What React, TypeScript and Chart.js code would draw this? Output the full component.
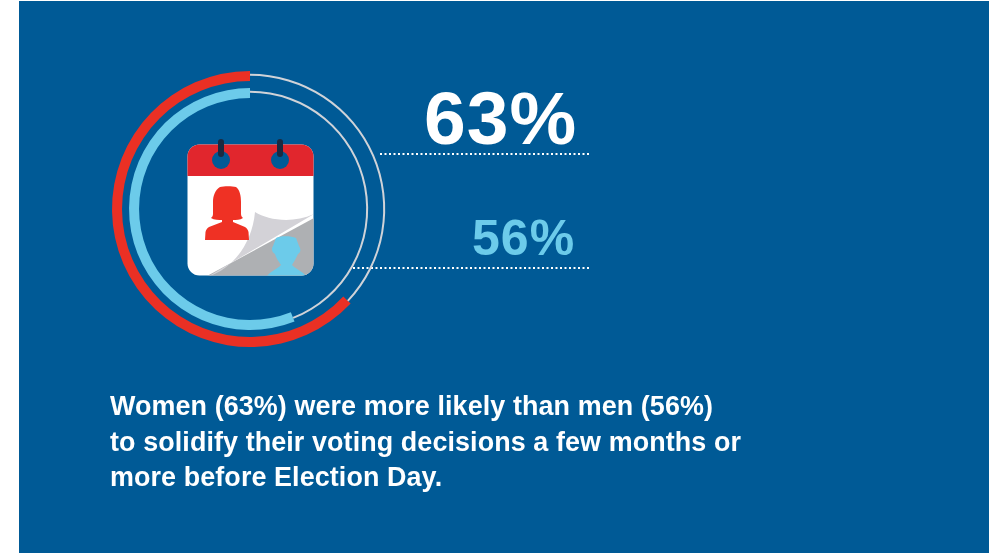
import React, { useEffect, useRef } from "react";
import { Chart, registerables } from "chart.js";

Chart.register(...registerables);

// Share of each group that settled on a vote months ahead of Election Day
const groups = ["Women", "Men"];
const decidedEarly = [63, 56];
const ringColors = ["#ea3024", "#6ccbea"];
const trackColor = "#d0d3d8";
const noteLines = [
  "Women (63%) were more likely than men (56%)",
  "to solidify their voting decisions a few months or",
  "more before Election Day.",
];

const FONT = '"Liberation Sans", Arial, sans-serif';
const PANEL = "#005a96";

// Thins the remainder of each ring down to a hairline track
const thinTracks = {
  id: "thinTracks",
  beforeDatasetDraw(chart: any, args: any) {
    const ds = chart.data.datasets[args.index];
    if (ds.label === "gap") return;
    const track = args.meta.data[1];
    const band = args.meta.data[0];
    const mid = (band.outerRadius + band.innerRadius) / 2 + 1.2;
    track.outerRadius = mid + 1;
    track.innerRadius = mid - 1;
  },
};

function ringDataset(index: number) {
  const value = decidedEarly[index];
  return {
    label: groups[index],
    data: [value, 100 - value],
    backgroundColor: [ringColors[index], trackColor],
    borderWidth: 0,
    // The band ends at twelve o'clock and grows anticlockwise
    rotation: (-value / 100) * 360,
    weight: 10,
  };
}

function CalendarIcon() {
  return (
    <svg
      width={989}
      height={553}
      style={{ position: "absolute", left: 0, top: 0 }}
    >
      <defs>
        <clipPath id="sheet">
          <rect x={187.5} y={144.5} width={126} height={131} rx={12} />
        </clipPath>
      </defs>
      <line x1={380} y1={154} x2={591} y2={154} stroke="#ffffff" strokeWidth={2} strokeDasharray="2 2.5" />
      <line x1={353} y1={268} x2={591} y2={268} stroke="#ffffff" strokeWidth={2} strokeDasharray="2 2.5" />
      <g clipPath="url(#sheet)">
        <rect x={187} y={144} width={127} height={132} fill="#ffffff" />
        <rect x={187} y={144} width={127} height={32} fill="#e1262d" />
        <path d="M207 276 L314 218 L314 276 Z" fill="#aeb0b3" />
        <path
          d="M255 212 C268 220 292 224 314 214 L209 276 C230 270 252 246 255 212 Z"
          fill="#d3d2d7"
        />
        <path
          d="M276 238 C280 235.5 291 235.5 296 238 L299 246 C301 249 301 252 298 254 C296 258 294 262 292 265 C296 269 302 271 306 276 L267 276 C271 271 277 269 281 265 C279 262 276 258 275 254 C272 252 271 249 273 246 Z"
          fill="#6ccbea"
        />
      </g>
      <circle cx={221} cy={160} r={9} fill={PANEL} />
      <circle cx={280} cy={160} r={9} fill={PANEL} />
      <rect x={218} y={139} width={6} height={18} rx={3} fill="#1b2a41" />
      <rect x={277} y={139} width={6} height={18} rx={3} fill="#1b2a41" />
      <path
        d="M220 187 C224 186 232 186 236 187 C240 190 241 196 241 202 L241 214 C241 216 242 217 243 218 C240 220 236 220 233 220 L233 222 L245 227 C247 228 248 230 248.5 232 L249 240 L205 240 L205.5 232 C206 230 207 228 209 227 L222 222 L222 220 C219 220 214 220 211 218 C212 217 213 216 213 214 L213 202 C213 196 215 190 220 187 Z"
        fill="#ef3124"
      />
    </svg>
  );
}

export default function App() {
  const canvasRef = useRef<HTMLCanvasElement>(null);

  useEffect(() => {
    const chart = new Chart(canvasRef.current!, {
      type: "doughnut",
      data: {
        labels: ["Decided early", "Other"],
        datasets: [
          ringDataset(0),
          {
            label: "gap",
            data: [100],
            backgroundColor: ["rgba(0,0,0,0)"],
            borderWidth: 0,
            weight: 7,
          },
          ringDataset(1),
        ],
      },
      options: {
        responsive: false,
        animation: false,
        cutout: "80.4%",
        layout: { padding: { left: 112, right: 601, top: 71, bottom: 206 } },
        plugins: { legend: { display: false }, tooltip: { enabled: false } },
      },
      plugins: [thinTracks],
    });
    return () => chart.destroy();
  }, []);

  return (
    <div
      style={{
        position: "absolute",
        left: 0,
        top: 0,
        width: 989,
        height: 553,
        overflow: "hidden",
        background: "#ffffff",
        fontFamily: FONT,
      }}
    >
      <div
        style={{
          position: "absolute",
          left: 19,
          top: 1,
          right: 0,
          bottom: 0,
          background: PANEL,
        }}
      />
      <CalendarIcon />
      <canvas
        ref={canvasRef}
        width={989}
        height={553}
        style={{ position: "absolute", left: 0, top: 0 }}
      />
      <div
        style={{
          position: "absolute",
          left: 424,
          top: 75,
          fontSize: 75,
          lineHeight: "86px",
          fontWeight: 700,
          letterSpacing: 1,
          color: "#ffffff",
          whiteSpace: "nowrap",
        }}
      >
        {decidedEarly[0]}%
      </div>
      <div
        style={{
          position: "absolute",
          left: 472,
          top: 209,
          fontSize: 50,
          lineHeight: "58px",
          fontWeight: 700,
          letterSpacing: 1,
          color: ringColors[1],
          whiteSpace: "nowrap",
        }}
      >
        {decidedEarly[1]}%
      </div>
      <div
        style={{
          position: "absolute",
          left: 110,
          top: 389,
          fontSize: 26.9,
          lineHeight: "35.5px",
          fontWeight: 700,
          letterSpacing: 0.1,
          color: "#ffffff",
          whiteSpace: "nowrap",
        }}
      >
        {noteLines.map((line) => (
          <div key={line}>{line}</div>
        ))}
      </div>
    </div>
  );
}
